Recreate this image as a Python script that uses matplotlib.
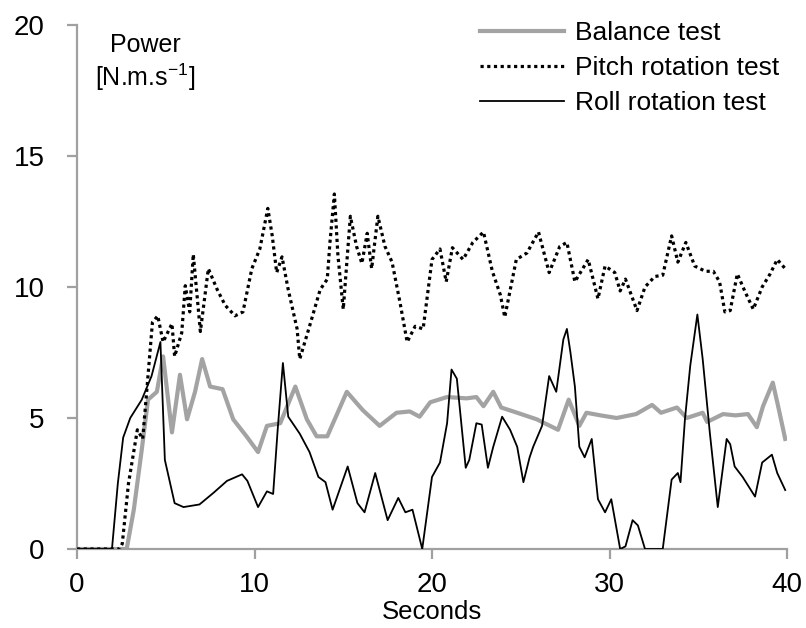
import matplotlib
matplotlib.use("Agg")
import matplotlib.pyplot as plt

# ---------------- data ----------------
roll_t = [0, 1.97, 2.3, 2.6, 3.0, 3.65, 4.2, 4.7, 4.95, 5.5, 6.0, 6.9, 7.7, 8.45, 9.3,
          9.6, 10.2, 10.7, 11.05, 11.3, 11.6, 11.9, 12.55, 13.1, 13.6, 14.0, 14.4,
          15.25, 15.8, 16.2, 16.8, 17.5, 18.1, 18.5, 18.9, 19.45, 20.0, 20.45, 20.85,
          21.1, 21.4, 21.9, 22.1, 22.5, 22.8, 23.15, 23.45, 23.95, 24.4, 24.8, 25.15,
          25.5, 25.7, 26.2, 26.6, 27.0, 27.4, 27.6, 27.8, 28.05, 28.3, 28.6, 29.0,
          29.35, 29.75, 30.1, 30.6, 30.9, 31.3, 31.6, 32.0, 33.0, 33.5, 33.85, 34.0,
          34.25, 34.55, 34.95, 35.25, 35.65, 36.1, 36.6, 36.8, 37.05, 37.5, 38.2,
          38.6, 39.15, 39.45, 39.9]
roll_v = [0, 0, 2.5, 4.25, 5.0, 5.7, 6.6, 7.9, 3.4, 1.75, 1.6, 1.7, 2.15, 2.6, 2.85,
          2.6, 1.6, 2.2, 2.1, 4.5, 7.1, 5.05, 4.4, 3.7, 2.75, 2.55, 1.5,
          3.15, 1.75, 1.4, 2.9, 1.1, 1.95, 1.4, 1.5, 0.0, 2.75, 3.3, 4.8,
          6.85, 6.5, 3.1, 3.4, 4.8, 4.75, 3.1, 3.9, 5.05, 4.55, 3.9, 2.55,
          3.5, 3.9, 4.7, 6.6, 6.0, 8.0, 8.4, 7.5, 6.2, 3.9, 3.5, 4.2,
          1.9, 1.4, 1.9, 0.0, 0.1, 1.1, 0.9, 0.0, 0.0, 2.65, 2.9, 2.55,
          4.95, 7.0, 8.95, 7.25, 4.45, 1.6, 4.2, 4.0, 3.15, 2.75, 2.0,
          3.3, 3.6, 2.9, 2.25]

bal_t = [0, 2.8, 3.2, 3.65, 4.0, 4.5, 4.85, 5.35, 5.8, 6.2, 6.65, 7.05, 7.5, 8.2,
         8.8, 9.55, 10.2, 10.7, 11.45, 12.3, 12.95, 13.5, 14.1, 15.2, 16.1, 17.05,
         18.0, 18.75, 19.3, 19.9, 20.85, 21.95, 22.5, 22.9, 23.45, 23.9, 24.8, 25.9,
         26.65, 27.1, 27.7, 28.0, 28.3, 28.7, 29.5, 30.4, 31.5, 32.4, 32.9, 33.8,
         34.35, 35.25, 35.5, 36.4, 37.1, 37.8, 38.3, 38.65, 39.2, 39.5, 39.9]
bal_v = [0, 0, 1.5, 3.8, 5.7, 6.0, 7.35, 4.45, 6.65, 4.95, 6.0, 7.25, 6.2, 6.1,
         4.95, 4.3, 3.7, 4.7, 4.8, 6.2, 4.95, 4.3, 4.3, 6.0, 5.3, 4.7,
         5.2, 5.25, 5.05, 5.6, 5.8, 5.75, 5.8, 5.45, 6.0, 5.4, 5.2, 4.95,
         4.7, 4.55, 5.7, 5.2, 4.7, 5.2, 5.1, 5.0, 5.15, 5.5, 5.2, 5.4,
         5.0, 5.2, 4.85, 5.15, 5.1, 5.15, 4.65, 5.45, 6.35, 5.45, 4.2]

pitch_t = [0, 2.4, 2.55, 2.9, 3.4, 3.7, 3.95, 4.25, 4.55, 4.85, 5.35, 5.5, 5.9, 6.1,
           6.35, 6.55, 6.95, 7.4, 7.9, 8.35, 8.9, 9.35, 9.85, 10.3, 10.75, 11.0,
           11.25, 11.55, 11.9, 12.4, 12.55, 13.1, 13.7, 14.1, 14.25, 14.5, 14.7,
           15.0, 15.4, 15.75, 16.05, 16.35, 16.6, 16.95, 17.35, 17.75, 18.2, 18.6,
           19.05, 19.5, 20.0, 20.45, 20.8, 21.15, 21.75, 22.3, 22.9, 23.4, 23.85,
           24.1, 24.75, 25.35, 26.0, 26.6, 27.2, 27.6, 28.05, 28.8, 29.35, 29.75,
           30.3, 30.6, 30.9, 31.55, 32.0, 32.55, 33.0, 33.25, 33.5, 33.85, 34.3,
           34.8, 35.4, 35.85, 36.2, 36.5, 36.8, 37.2, 37.65, 38.1, 38.6, 39.05,
           39.45, 39.9]
pitch_v = [0, 0, 0.2, 2.5, 4.55, 4.2, 6.2, 8.65, 8.9, 7.9, 8.6, 7.35, 8.25, 10.05,
           9.05, 11.25, 8.3, 10.7, 9.9, 9.3, 8.9, 9.05, 10.7, 11.45, 13.0, 11.95,
           10.55, 11.15, 9.9, 8.4, 7.25, 8.5, 9.9, 10.3, 11.7, 13.55, 11.2,
           9.15, 12.7, 11.55, 10.9, 12.05, 10.7, 12.7, 11.55, 10.95, 9.4, 7.9,
           8.5, 8.4, 11.05, 11.45, 10.2, 11.5, 11.05, 11.7, 12.1, 10.6, 9.7,
           8.85, 11.05, 11.3, 12.1, 10.55, 11.55, 11.7, 10.2, 11.05, 9.55, 10.8,
           10.55, 9.85, 10.3, 9.1, 10.0, 10.4, 10.45, 11.2, 11.95, 10.95, 11.7,
           10.8, 10.6, 10.6, 10.2, 9.05, 9.1, 10.5, 9.8, 9.15, 10.0, 10.5,
           11.05, 10.7]

x_ticks = [0, 10, 20, 30, 40]
y_ticks = [0, 5, 10, 15, 20]
labels = ["Balance test", "Pitch rotation test", "Roll rotation test"]

# ---------------- figure ----------------
plt.rcParams["font.family"] = ["Liberation Sans", "DejaVu Sans"]

fig = plt.figure(figsize=(8.06, 6.28), dpi=100)
ax = fig.add_axes([77 / 806, 1 - 549 / 628, (787 - 77) / 806, (549 - 25) / 628])

ax.plot(bal_t, bal_v, color="#a3a3a3", lw=3.0, solid_joinstyle="round", label=labels[0], zorder=2)
ax.plot(pitch_t, pitch_v, color="black", lw=2.3, linestyle=(0, (1, 1.1)), label=labels[1], zorder=3)
ax.plot(roll_t, roll_v, color="black", lw=1.3, label=labels[2], zorder=4)

ax.set_xlim(0, 40)
ax.set_ylim(0, 20)
ax.set_xticks(x_ticks)
ax.set_yticks(y_ticks)
for s in ["top", "right"]:
    ax.spines[s].set_visible(False)
for s in ["left", "bottom"]:
    ax.spines[s].set_color("#a0a0a0")
    ax.spines[s].set_linewidth(1.6)
ax.tick_params(axis="both", colors="#a0a0a0", width=1.6, length=7.2, labelcolor="black",
               labelsize=20)
ax.tick_params(axis="y", pad=16)
ax.tick_params(axis="x", pad=9)

ax.set_xlabel("Seconds", fontsize=18.5, labelpad=2)
ax.text(0.096, 0.985, "Power", transform=ax.transAxes, fontsize=18, ha="center", va="top")
ax.text(0.096, 0.930, "[N.m.s$^{\\mathregular{-1}}$]", transform=ax.transAxes, fontsize=18,
        ha="center", va="top")

leg = ax.legend(loc="upper left", bbox_to_anchor=(480 / 806, 1 - 21 / 628),
                bbox_transform=fig.transFigure, frameon=False, fontsize=19,
                handlelength=3.2, handletextpad=0.4, labelspacing=0.42, borderaxespad=0,
                borderpad=0)

fig.savefig("out.png", dpi=100)
